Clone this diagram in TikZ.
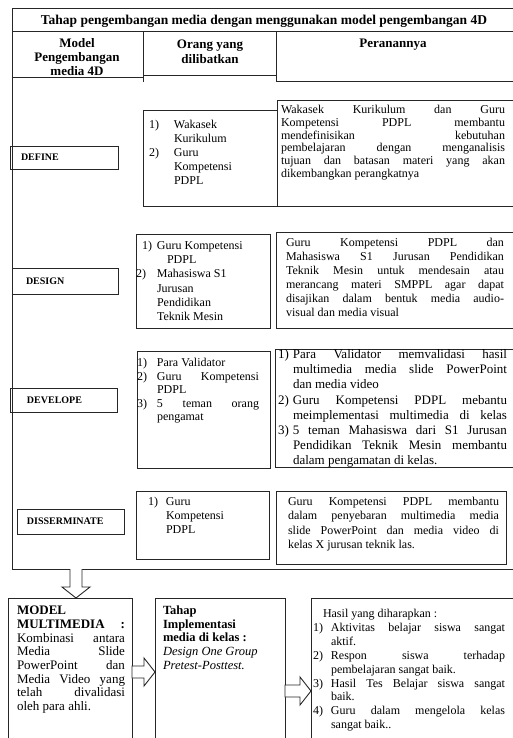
\documentclass[tikz,border=0pt]{standalone}
\usepackage{fontspec}
\setmainfont{Liberation Serif}
\usetikzlibrary{calc}
\newcommand{\jl}[2]{\makebox[#1][s]{#2}}
\newcommand{\nm}[2]{\makebox[#1][l]{#2}}
\newcommand{\fsz}[2]{\fontsize{#1}{#2}\selectfont}
\tikzset{
  frame/.style={draw=black!85, line width=1pt},
  box/.style={draw=black!85, line width=0.9pt, inner sep=0pt, outer sep=0pt, anchor=north west},
  lbl/.style={box, inner ysep=0pt, align=left, font=\fsz{10}{12}\bfseries},
  txt/.style={inner sep=0pt, outer sep=0pt, anchor=north west, align=left, text=black},
  hblk/.style={draw=black!85, line width=0.9pt, fill=white,
    to path={let \p1=(\tikztostart), \p2=(\tikztotarget) in
      (\x1,{\y1+6pt}) -- ({\x2-11pt},{\y1+6pt}) -- ({\x2-11pt},{\y1+14pt}) -- (\x2,\y1)
      -- ({\x2-11pt},{\y1-14pt}) -- ({\x2-11pt},{\y1-6pt}) -- (\x1,{\y1-6pt}) -- cycle}},
  vblk/.style={draw=black!85, line width=0.9pt, fill=white,
    to path={let \p1=(\tikztostart), \p2=(\tikztotarget) in
      ({\x1-6pt},\y1) -- ({\x1-6pt},{\y2+11pt}) -- ({\x1-14pt},{\y2+11pt}) -- (\x1,\y2)
      -- ({\x1+14pt},{\y2+11pt}) -- ({\x1+6pt},{\y2+11pt}) -- ({\x1+6pt},\y1)}}
}
\begin{document}
\begin{tikzpicture}[x=1pt,y=-1pt]
\useasboundingbox (0,0) rectangle (512,738);
\fill[white] (0,0) rectangle (512,738);

% outer frame and header
\draw[frame] (530,9) -- (12,9) -- (12,569) -- (530,569);
\draw[frame] (12,32) -- (530,32);
\draw[frame] (12,78) -- (143,78);
\draw[frame] (143,32) -- (143,82);
\draw[frame] (143,76) -- (276,76);
\draw[frame] (276,32) -- (276,82) -- (530,82);

\node[font=\fsz{13.5}{16}\bfseries, anchor=base, inner sep=0pt] (title) at (264,25)
  {Tahap pengembangan media dengan menggunakan model pengembangan 4D};
\node[txt, anchor=north, align=center, font=\fsz{13}{14}\bfseries] (hmodel) at (77,37.7)
  {\strut Model\\Pengembangan\\media 4D};
\node[txt, anchor=north, align=center, font=\fsz{13}{15}\bfseries] (horang) at (210,37.7)
  {\strut Orang yang\\dilibatkan};
\node[txt, anchor=north, align=center, font=\fsz{13}{14}\bfseries] (hperan) at (393,37.7)
  {\strut Peranannya};

% DEFINE row
\node[lbl, minimum height=23pt, inner xsep=11pt, text width=86pt] (deflbl) at (10,146) {DEFINE};
\node[box, minimum width=134pt, minimum height=96pt] (deforg) at (143,110) {};
\node[box, minimum width=260pt, minimum height=106pt] (defper) at (277,100) {};
\node[txt, font=\fsz{12}{14}] (deforgt) at (149,118.5)
  {\strut\nm{25pt}{1)}Wakasek\\ \nm{25pt}{}Kurikulum\\ \nm{25pt}{2)}Guru\\ \nm{25pt}{}Kompetensi\\ \nm{25pt}{}PDPL};
\node[txt, font=\fsz{12}{12.8}] (defpert) at (281,104.5)
  {\strut\jl{224pt}{Wakasek Kurikulum dan Guru}\\
   \jl{224pt}{Kompetensi PDPL membantu}\\
   \jl{224pt}{mendefinisikan kebutuhan}\\
   \jl{224pt}{pembelajaran dengan menganalisis}\\
   \jl{224pt}{tujuan dan batasan materi yang akan}\\
   dikembangkan perangkatnya};

% DESIGN row
\node[lbl, minimum height=26pt, inner xsep=14pt, text width=78pt] (deslbl) at (12,268) {DESIGN};
\node[box, minimum width=134pt, minimum height=94pt] (desorg) at (136,234) {};
\node[box, minimum width=261pt, minimum height=96pt] (desper) at (276,232) {};
\node[txt, font=\fsz{12}{14.2}] (desorgt) at (136,239.6)
  {\strut\hspace*{6pt}\nm{15pt}{1)}Guru Kompetensi\\
   \hspace*{31pt}PDPL\\
   \nm{21pt}{2)}Mahasiswa S1\\
   \hspace*{21pt}Jurusan\\
   \hspace*{21pt}Pendidikan\\
   \hspace*{21pt}Teknik Mesin};
\node[txt, font=\fsz{12}{14}] (despert) at (286,236.7)
  {\strut\jl{218pt}{Guru Kompetensi PDPL dan}\\
   \jl{218pt}{Mahasiswa S1 Jurusan Pendidikan}\\
   \jl{218pt}{Teknik Mesin untuk mendesain atau}\\
   \jl{218pt}{merancang materi SMPPL agar dapat}\\
   \jl{218pt}{disajikan dalam bentuk media audio-}\\
   visual dan media visual};

% DEVELOPE row
\node[lbl, minimum height=24pt, inner xsep=17pt, text width=73pt] (devlbl) at (10,388) {DEVELOPE};
\node[box, minimum width=133pt, minimum height=117pt] (devorg) at (137,351) {};
\node[box, minimum width=262pt, minimum height=118pt] (devper) at (275,349) {};
\node[txt, font=\fsz{12}{13.6}] (devorgt) at (137,357)
  {\strut\nm{20pt}{1)}Para Validator\\
   \nm{20pt}{2)}\jl{102pt}{Guru Kompetensi}\\
   \nm{20pt}{}PDPL\\
   \nm{20pt}{3)}\jl{102pt}{5 teman orang}\\
   \nm{20pt}{}pengamat};
\node[txt, font=\fsz{13}{15.1}] (devpert) at (278,348.2)
  {\strut\nm{15pt}{1)}\jl{214pt}{Para Validator memvalidasi hasil}\\
   \nm{15pt}{}\jl{214pt}{multimedia media slide PowerPoint}\\
   \nm{15pt}{}dan media video\\
   \nm{15pt}{2)}\jl{214pt}{Guru Kompetensi PDPL mebantu}\\
   \nm{15pt}{}\jl{214pt}{meimplementasi multimedia di kelas}\\
   \nm{15pt}{3)}\jl{214pt}{5 teman Mahasiswa dari S1 Jurusan}\\
   \nm{15pt}{}\jl{214pt}{Pendidikan Teknik Mesin membantu}\\
   \nm{15pt}{}dalam pengamatan di kelas.};

% DISSERMINATE row
\node[lbl, minimum height=25pt, inner xsep=10pt, text width=87pt] (dislbl) at (17,509) {DISSERMINATE};
\node[box, minimum width=133pt, minimum height=68pt] (disorg) at (136,491) {};
\node[box, minimum width=230pt, minimum height=73pt] (disper) at (276,491) {};
\node[txt, font=\fsz{12}{14}] (disorgt) at (148,495.7)
  {\strut\nm{18pt}{1)}Guru\\ \nm{18pt}{}Kompetensi\\ \nm{18pt}{}PDPL};
\node[txt, font=\fsz{12}{14.4}] (dispert) at (288,495.4)
  {\strut\jl{211pt}{Guru Kompetensi PDPL membantu}\\
   \jl{211pt}{dalam penyebaran multimedia media}\\
   \jl{211pt}{slide PowerPoint dan media video di}\\
   kelas X jurusan teknik las.};

% bottom boxes
\node[box, minimum width=124pt, minimum height=150pt] (mm) at (8,598) {};
\node[box, minimum width=130pt, minimum height=150pt] (tahap) at (155,598) {};
\node[box, minimum width=226pt, minimum height=150pt] (hasil) at (311,598) {};
\node[txt, font=\fsz{13}{13.7}] (mmt) at (17,605.2)
  {\strut\textbf{MODEL}\\
   \textbf{\jl{108pt}{MULTIMEDIA :}}\\
   \jl{108pt}{Kombinasi antara}\\
   \jl{108pt}{Media Slide}\\
   \jl{108pt}{PowerPoint dan}\\
   \jl{108pt}{Media Video yang}\\
   \jl{108pt}{telah divalidasi}\\
   oleh para ahli.};
\node[txt, font=\fsz{12.5}{13.6}] (tahapt) at (163,605.1)
  {\strut\textbf{Tahap}\\
   \textbf{Implementasi}\\
   \textbf{media di kelas :}\\
   \textit{Design One Group}\\
   \textit{Pretest-Posttest.}};
\node[txt, font=\fsz{12}{13.9}] (hasilt) at (313,607.8)
  {\strut\hspace*{10pt}Hasil yang diharapkan :\\
   \nm{18pt}{1)}\jl{174pt}{Aktivitas belajar siswa sangat}\\
   \nm{18pt}{}aktif.\\
   \nm{18pt}{2)}\jl{174pt}{Respon siswa terhadap}\\
   \nm{18pt}{}pembelajaran sangat baik.\\
   \nm{18pt}{3)}\jl{174pt}{Hasil Tes Belajar siswa sangat}\\
   \nm{18pt}{}baik.\\
   \nm{18pt}{4)}\jl{174pt}{Guru dalam mengelola kelas}\\
   \nm{18pt}{}sangat baik..};

% arrows
\coordinate (fb) at (76,569);
\coordinate (ya) at (0,672);
\coordinate (yb) at (0,691);
\draw[vblk] (fb) to (fb |- mm.north);
\draw[hblk] (mm.east |- ya) to (tahap.west |- ya);
\draw[hblk] (tahap.east |- yb) to (hasil.west |- yb);
\end{tikzpicture}
\end{document}
